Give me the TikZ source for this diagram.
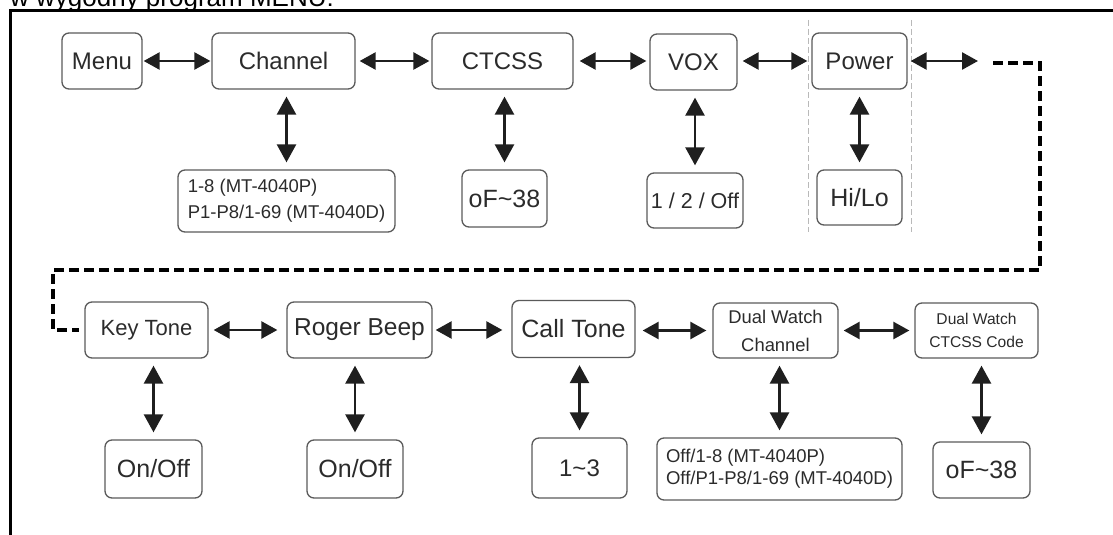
\documentclass[tikz,border=0pt]{standalone}
\usepackage{fontspec}
\setmainfont{Liberation Sans}
\usetikzlibrary{arrows.meta}
\definecolor{txt}{HTML}{2B2B2B}
\definecolor{bord}{HTML}{5A5A5A}
\newcommand{\fs}[2]{\fontsize{#1}{#2}\selectfont}
\begin{document}
\begin{tikzpicture}[x=1pt,y=-1pt,
  box/.style={draw=bord, line width=1.3pt, rounded corners=7pt, text=txt, inner sep=0pt, align=center},
  harr/.style={{Triangle[length=16pt,width=17pt]}-{Triangle[length=16pt,width=17pt]}, line width=2.6pt, draw=black!88},
  varr/.style={{Triangle[length=18pt,width=19pt]}-{Triangle[length=18pt,width=19pt]}, line width=2.6pt, draw=black!88, shorten <=7pt, shorten >=7pt},
  dashconn/.style={line width=4pt, draw=black, dash pattern=on 10pt off 5pt},
  guide/.style={draw=gray!55, line width=0.8pt, dash pattern=on 6pt off 3pt}]
\useasboundingbox (0,0) rectangle (1113,535);
\clip (0,0) rectangle (1113,535);

% title (cut at the top) and frame
\node[anchor=base west, font=\fs{26}{30}, inner sep=0pt, text=black] (title) at (10,7) {w wygodny program MENU:};
\draw[line width=3pt] (10,535) -- (10,11) -- (1113,11);

% grey guide around Power
\draw[guide] (808,20) -- (808,232);
\draw[guide] (911,20) -- (911,232);

% top row
\node[box, minimum width=80pt, minimum height=56pt, font=\fs{24}{28}] (menu) at (102,61) {Menu};
\node[box, minimum width=143pt, minimum height=56pt, font=\fs{24}{28}] (channel) at (283.5,61) {Channel};
\node[box, minimum width=141pt, minimum height=56pt, font=\fs{24}{28}] (ctcss) at (502.5,61) {CTCSS};
\node[box, minimum width=87pt, minimum height=56pt, font=\fs{24}{28}] (vox) at (693.5,62) {VOX};
\node[box, minimum width=95pt, minimum height=56pt, font=\fs{24}{28}] (power) at (859.5,61) {Power};

% top values
\node[box, minimum width=217pt, minimum height=62pt, align=left, font=\fs{18.5}{26}] (chv) at (286.5,201) {1-8 (MT-4040P)\\P1-P8/1-69 (MT-4040D)};
\node[box, minimum width=85pt, minimum height=57pt, font=\fs{25}{28}] (ctv) at (504.5,198.5) {oF\char`~38};
\node[box, minimum width=96pt, minimum height=55pt, font=\fs{21.5}{26}] (voxv) at (695,200.5) {1 / 2 / Off};
\node[box, minimum width=85pt, minimum height=55pt, font=\fs{25}{28}] (pwv) at (859.5,197.5) {Hi/Lo};

% bottom row
\node[box, minimum width=123pt, minimum height=56pt, font=\fs{22}{26}] (key) at (146.5,330) {Key Tone};
\node[box, minimum width=145pt, minimum height=56pt, font=\fs{24.5}{28}] (roger) at (359.5,330) {Roger Beep};
\node[box, minimum width=123pt, minimum height=57pt, font=\fs{25}{28}] (call) at (573.5,329) {Call Tone};
\node[box, minimum width=125pt, minimum height=55pt, font=\fs{18.4}{28}] (dwc) at (775.5,330.5) {Dual Watch\\Channel};
\node[box, minimum width=123pt, minimum height=55pt, font=\fs{15.6}{23}] (dwcs) at (976.5,330.5) {Dual Watch\\CTCSS Code};

% bottom values
\node[box, minimum width=97pt, minimum height=58pt, font=\fs{25}{28}] (keyv) at (153.5,469) {On/Off};
\node[box, minimum width=96pt, minimum height=58pt, font=\fs{25}{28}] (rogv) at (355,469) {On/Off};
\node[box, minimum width=95pt, minimum height=60pt, font=\fs{24}{28}] (callv) at (579.5,468) {1\char`~3};
\node[box, minimum width=245pt, minimum height=62pt, align=left, font=\fs{18.5}{22}] (dwv) at (779.5,469) {Off/1-8 (MT-4040P)\\Off/P1-P8/1-69 (MT-4040D)};
\node[box, minimum width=97pt, minimum height=56pt, font=\fs{25}{28}] (dwcsv) at (981.5,470) {oF\char`~38};

% horizontal arrows, top
\draw[harr, shorten <=1pt, shorten >=1pt] (menu) -- (channel);
\draw[harr, shorten <=4pt, shorten >=2pt] (channel) -- (ctcss);
\draw[harr, shorten <=6pt, shorten >=3pt] (ctcss.east) -- (vox.west |- ctcss.east);
\draw[harr, shorten <=5pt, shorten >=4pt] (vox.east |- power.west) -- (power.west);
\coordinate (pend) at (978,61);
\draw[harr, shorten <=3pt] (power.east) -- (pend);

% dashed continuation
\coordinate (dstart) at (993,63);
\coordinate (dc1) at (1040,270);
\coordinate (dc2) at (53,270);
\draw[dashconn] (dstart) -| (dc1) -- (dc2) |- ([xshift=-5pt]key.west);

% horizontal arrows, bottom
\draw[harr, shorten <=5pt, shorten >=9pt] (key) -- (roger);
\draw[harr, shorten <=3pt, shorten >=9pt] (roger.east) -- (call.west |- roger.east);
\draw[harr, shorten <=7pt, shorten >=6pt] (call.east |- dwc.west) -- (dwc.west);
\draw[harr, shorten <=5pt, shorten >=5pt] (dwc) -- (dwcs);

% vertical arrows
\draw[varr] (chv.north |- channel.south) -- (chv.north);
\draw[varr] (ctv.north |- ctcss.south) -- (ctv.north);
\draw[varr] (voxv.north |- vox.south) -- (voxv.north);
\draw[varr] (pwv.north |- power.south) -- (pwv.north);
\draw[varr] (keyv.north |- key.south) -- (keyv.north);
\draw[varr] (rogv.north |- roger.south) -- (rogv.north);
\draw[varr] (callv.north |- call.south) -- (callv.north);
\draw[varr] (dwv.north |- dwc.south) -- (dwv.north);
\draw[varr] (dwcsv.north |- dwcs.south) -- (dwcsv.north);
\end{tikzpicture}
\end{document}
